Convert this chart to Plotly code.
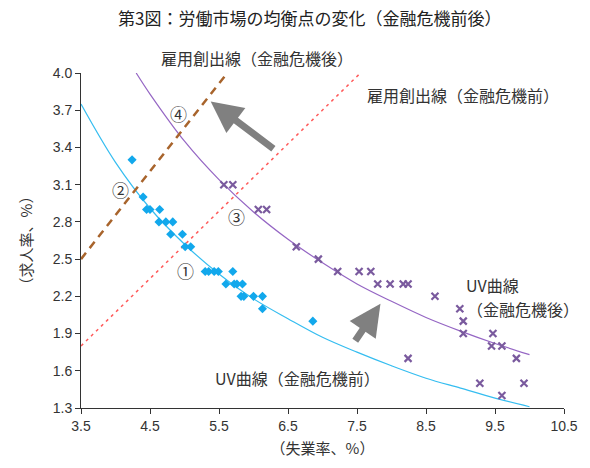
import plotly.graph_objects as go

# Scatter data (unemployment rate, job-offer rate)
before_x = [4.24, 4.40, 4.45, 4.50, 4.64, 4.63, 4.73, 4.83, 4.80, 4.97, 5.01, 5.09,
            5.30, 5.35, 5.43, 5.49, 5.70, 5.60, 5.72, 5.76, 5.84, 5.82, 5.86, 6.00, 6.13, 6.13, 6.86]
before_y = [3.3, 3.0, 2.9, 2.9, 2.9, 2.8, 2.8, 2.8, 2.7, 2.7, 2.6, 2.6,
            2.4, 2.4, 2.4, 2.4, 2.4, 2.3, 2.3, 2.3, 2.3, 2.2, 2.2, 2.2, 2.2, 2.1, 2.0]
after_x = [5.57, 5.70, 6.07, 6.19, 6.62, 6.94, 7.22, 7.53, 7.70, 7.80, 7.98, 8.17, 8.24,
           8.63, 8.24, 8.99, 9.04, 9.04, 9.47, 9.45, 9.60, 9.81, 9.28, 9.92, 9.60]
after_y = [3.1, 3.1, 2.9, 2.9, 2.6, 2.5, 2.4, 2.4, 2.4, 2.3, 2.3, 2.3, 2.3,
           2.2, 1.7, 2.1, 2.0, 1.9, 1.9, 1.8, 1.8, 1.7, 1.5, 1.5, 1.4]

# UV curves
uv_before_x = [3.5, 4.0, 4.5, 5.0, 5.5, 6.0, 6.5, 7.0, 7.5, 8.0, 8.5, 9.0, 9.5, 10.0]
uv_before_y = [3.75, 3.28, 2.91, 2.62, 2.38, 2.18, 2.02, 1.87, 1.75, 1.64, 1.54, 1.46, 1.38, 1.31]
uv_after_x = [4.3, 4.5, 5.0, 5.5, 6.0, 6.5, 7.0, 7.5, 8.0, 8.5, 9.0, 9.5, 10.0]
uv_after_y = [4.0, 3.83, 3.45, 3.14, 2.88, 2.66, 2.47, 2.30, 2.16, 2.03, 1.92, 1.82, 1.73]

# Job creation lines
jc_after_x = [3.5, 5.62]
jc_after_y = [2.5, 4.0]
jc_before_x = [3.5, 7.55]
jc_before_y = [1.8, 4.0]

# Ticks
x_ticks = [3.5, 4.5, 5.5, 6.5, 7.5, 8.5, 9.5, 10.5]
y_ticks = [1.3, 1.6, 1.9, 2.2, 2.5, 2.8, 3.1, 3.4, 3.7, 4.0]

JP = "Noto Sans CJK JP"
LAT = "Liberation Sans"
TXT = "#333333"

fig = go.Figure()
fig.add_trace(go.Scatter(x=uv_before_x, y=uv_before_y, mode="lines", line=dict(color="#35BDF0", width=1.2, shape="spline")))
fig.add_trace(go.Scatter(x=uv_after_x, y=uv_after_y, mode="lines", line=dict(color="#9566C4", width=1.2, shape="spline")))
fig.add_trace(go.Scatter(x=jc_after_x, y=jc_after_y, mode="lines", line=dict(color="#A8642C", width=2.5, dash="8px,6px")))
fig.add_trace(go.Scatter(x=jc_before_x, y=jc_before_y, mode="lines", line=dict(color="#FF5A5A", width=1.5, dash="3px,4px")))
fig.add_trace(go.Scatter(x=before_x, y=before_y, mode="markers",
                         marker=dict(symbol="diamond", size=7, color="#12A8EC")))
fig.add_trace(go.Scatter(x=after_x, y=after_y, mode="markers",
                         marker=dict(symbol="x-thin", size=7, color="#7A5A9E", line=dict(width=2.2, color="#7A5A9E"))))

ann = []
def label(x, y, text, size=16, xanchor="left", xref="x", yref="y"):
    ann.append(dict(x=x, y=y, xref=xref, yref=yref, text=text, showarrow=False, align="left",
                    xanchor=xanchor, yanchor="middle", font=dict(family=JP, size=size, color=TXT)))

# plot area: 488 x 335 px
label((160 - 81) / 488, 1 + (73 - 58) / 335, "雇用創出線（金融危機後）", xref="paper", yref="paper")
label(7.62, 3.82, "雇用創出線（金融危機前）")
label(5.42, 1.54, "UV曲線（金融危機前）")
label(9.05, 2.29, "UV曲線")
label(9.07, 2.10, "（金融危機後）")
label(4.92, 3.67, "④", 17, "center")
label(4.07, 3.06, "②", 17, "center")
label(5.01, 2.41, "①", 17, "center")
label(5.75, 2.84, "③", 17, "center")

for (x0, y0, x1, y1) in [(6.31, 3.38, 5.38, 3.77), (7.46, 1.83, 7.84, 2.14)]:
    ann.append(dict(x=x1, y=y1, ax=x0, ay=y0, xref="x", yref="y", axref="x", ayref="y",
                    text="", showarrow=True, arrowhead=2, arrowsize=0.9, arrowwidth=7,
                    arrowcolor="#808080"))

ann.append(dict(x=(312 - 81) / 488, y=1 + (73 - 17) / 335, xref="paper", yref="paper",
                text="第3図：労働市場の均衡点の変化（金融危機前後）",
                showarrow=False, xanchor="center", yanchor="middle", font=dict(family=JP, size=17, color="#222222")))

fig.update_layout(
    width=590, height=468,
    margin=dict(l=81, r=21, t=73, b=60),
    paper_bgcolor="white", plot_bgcolor="white",
    showlegend=False,
    annotations=ann,
    font=dict(family=LAT, size=14, color=TXT),
    xaxis=dict(range=[3.5, 10.5], tickvals=x_ticks, ticktext=[f"{v:.1f}" for v in x_ticks],
               showgrid=False, zeroline=False, showline=True, linecolor="#333333", linewidth=1,
               ticks="outside", ticklen=5, tickcolor="#333333",
               tickfont=dict(family=LAT, size=14, color=TXT),
               title=dict(text="（失業率、%）", font=dict(family=JP, size=15, color=TXT), standoff=10)),
    yaxis=dict(range=[1.3, 4.0], tickvals=y_ticks, ticktext=[f"{v:.1f}" for v in y_ticks],
               showgrid=False, zeroline=False, showline=True, linecolor="#333333", linewidth=1,
               ticks="outside", ticklen=5, tickcolor="#333333",
               tickfont=dict(family=LAT, size=14, color=TXT),
               title=dict(text="（求人率、%）", font=dict(family=JP, size=15, color=TXT), standoff=16)),
)

fig.write_html("out.html", config={"displayModeBar": False},
               post_script="document.body.style.margin='0';document.body.style.overflow='hidden';")
